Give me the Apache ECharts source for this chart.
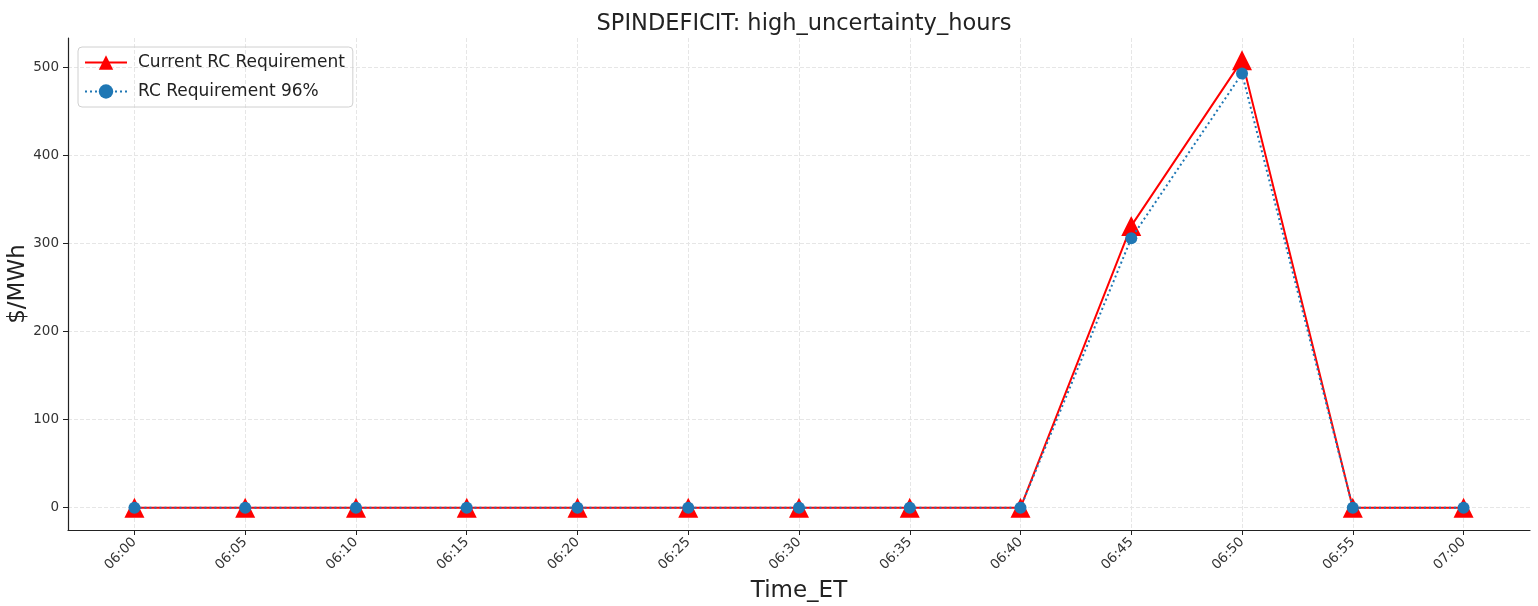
<!DOCTYPE html>
<html><head><meta charset="utf-8">
<script src="https://cdn.jsdelivr.net/npm/echarts@6/dist/echarts.min.js"></script>
<style>html,body{margin:0;padding:0;background:#fff}#c{width:1538px;height:606px}</style>
</head><body><div id="c"></div>
<script>
const categories = ["06:00","06:05","06:10","06:15","06:20","06:25","06:30","06:35","06:40","06:45","06:50","06:55","07:00"];
const currentRC = [0,0,0,0,0,0,0,0,0,320,508,0,0];
const rc96 = [0,0,0,0,0,0,0,0,0,306,493,0,0];
const yTicks = [0,100,200,300,400,500];

const idx = categories.map((_, i) => i);
const font = 'DejaVu Sans';
const chart = echarts.init(document.getElementById('c'));
chart.setOption({
  animation: false,
  textStyle: {fontFamily: font},
  title: {text: 'SPINDEFICIT: high_uncertainty_hours', left: 799, textAlign: 'center', top: 8,
    textStyle: {fontFamily: font, fontSize: 22.5, fontWeight: 'normal', color: '#222'}},
  grid: {left: 68, right: 8, top: 38, bottom: 76, outerBoundsMode: 'none'},
  legend: {
    left: 78, top: 47, orient: 'vertical', itemGap: 12, padding: [7, 8, 7, 6],
    borderColor: '#d0d0d0', borderWidth: 1, borderRadius: 4, itemWidth: 42, itemHeight: 18,
    textStyle: {fontFamily: font, fontSize: 17, color: '#222', padding: [0, 0, 0, 6]},
    data: ['Current RC Requirement', 'RC Requirement 96%']
  },
  xAxis: {
    type: 'value', min: -0.6, max: 12.6,
    name: 'Time_ET', nameLocation: 'middle', nameGap: 50, nameMoveOverlap: false,
    nameTextStyle: {fontFamily: font, fontSize: 23, color: '#222'},
    axisLine: {onZero: false, lineStyle: {color: '#222', width: 1.2}},
    axisTick: {show: true, customValues: idx, length: 5, lineStyle: {color: '#222'}},
    axisLabel: {customValues: idx, rotate: 45, fontSize: 13.5, color: '#333', margin: 10,
      formatter: v => categories[Math.round(v)]},
    splitLine: {show: true, lineStyle: {color: '#e6e6e6', type: 'dashed'}}
  },
  yAxis: {
    type: 'value', min: -25.4, max: 533.4,
    name: '$/MWh', nameLocation: 'middle', nameGap: 38, nameMoveOverlap: false,
    nameTextStyle: {fontFamily: font, fontSize: 23, color: '#222'},
    axisLine: {show: true, onZero: false, lineStyle: {color: '#222', width: 1.2}},
    axisTick: {show: true, customValues: yTicks, length: 5, lineStyle: {color: '#222'}},
    axisLabel: {customValues: yTicks, fontSize: 13.5, color: '#333', margin: 9},
    splitLine: {show: true, lineStyle: {color: '#e6e6e6', type: 'dashed'}}
  },
  series: [
    {name: 'Current RC Requirement', type: 'line', data: idx.map(i => [i, currentRC[i]]),
      color: '#ff0000', symbol: 'triangle', symbolSize: 20,
      lineStyle: {color: '#ff0000', width: 2}, itemStyle: {color: '#ff0000'}, z: 2},
    {name: 'RC Requirement 96%', type: 'line', data: idx.map(i => [i, rc96[i]]),
      color: '#1f77b4', symbol: 'circle', symbolSize: 12,
      lineStyle: {color: '#1f77b4', width: 2, type: [2, 3]}, itemStyle: {color: '#1f77b4'}, z: 3}
  ]
});
</script></body></html>
